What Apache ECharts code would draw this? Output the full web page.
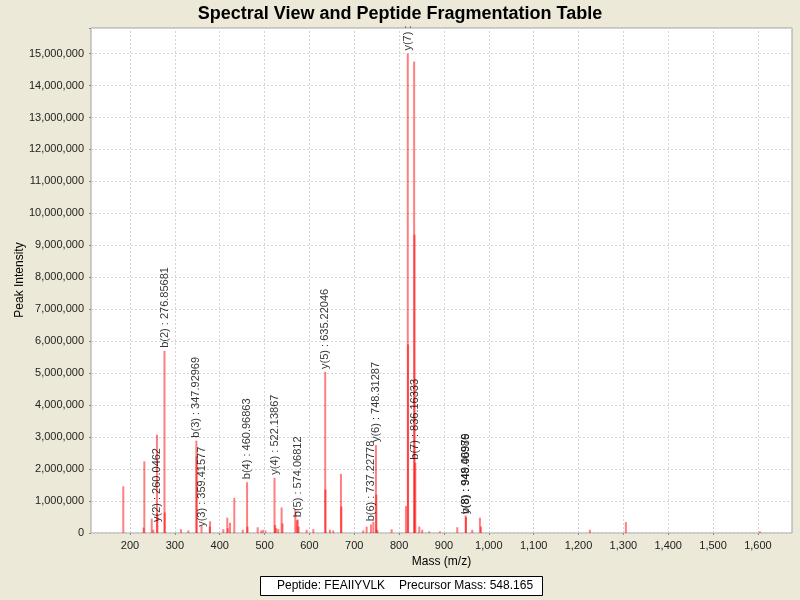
<!DOCTYPE html>
<html>
<head>
<meta charset="utf-8">
<script src="https://cdn.jsdelivr.net/npm/echarts@6/dist/echarts.min.js"></script>
<style>html,body{margin:0;padding:0;background:#ECE9D8;}#c{width:800px;height:600px;}</style>
</head>
<body>
<div id="c"></div>
<script>
// Peak list (m/z, intensity)
const peakMz = [185.0, 230.4, 231.9, 248.4, 252.0, 260.05, 261.0, 276.86, 277.5, 313.6, 330.0,
  347.93, 348.6, 359.42, 377.9, 378.5, 408.0, 416.9, 418.0, 422.9, 432.5, 451.5, 460.97, 462.0,
  484.6, 492.5, 497.0, 502.0, 522.14, 523.5, 526.0, 530.6, 538.0, 540.0, 568.5, 572.0, 574.07,
  576.0, 593.8, 608.6, 635.22, 635.8, 645.8, 653.0, 670.3, 671.2, 720.0, 727.6, 737.23, 742.4,
  748.31, 749.2, 751.5, 783.3, 815.2, 819.3, 820.0, 833.5, 834.3, 836.16, 845.0, 851.6, 867.0,
  891.0, 929.6, 948.4, 949.1, 963.0, 980.2, 982.4, 1225.4, 1305.6, 1604.3];
const peakIntensity = [1460000, 170000, 2240000, 450000, 100000, 3080000, 620000, 5700000, 640000, 120000, 80000,
  2890000, 2400000, 220000, 200000, 370000, 120000, 480000, 150000, 320000, 1100000, 100000, 1590000, 200000,
  180000, 80000, 100000, 80000, 1730000, 250000, 150000, 120000, 800000, 300000, 750000, 400000, 420000,
  200000, 100000, 120000, 5040000, 1360000, 100000, 80000, 1850000, 830000, 80000, 200000, 270000, 350000,
  2750000, 1200000, 100000, 120000, 840000, 15000000, 5900000, 14750000, 9330000, 2200000, 200000, 100000, 50000,
  50000, 180000, 550000, 500000, 100000, 480000, 200000, 100000, 340000, 50000];

// Fragment annotations
const annText = ["y(2) : 260.0462", "b(2) : 276.85681", "b(3) : 347.92969", "y(3) : 359.41577",
  "b(4) : 460.96863", "y(4) : 522.13867", "b(5) : 574.06812", "y(5) : 635.22046", "b(6) : 737.22778",
  "y(6) : 748.31287", "y(7) :", "b(7) : 836.16333", "y(8) : 948.40986", "b(8) : 949.06979"];
const annMz = [260.05, 276.86, 347.93, 359.42, 460.97, 522.14, 574.07, 635.22, 737.23, 748.31, 819.3, 836.16, 948.4, 949.1];
const annIntensity = [250000, 5700000, 2890000, 100000, 1590000, 1730000, 400000, 5040000, 270000, 2750000, 15000000, 2200000, 500000, 500000];

const xTicks = [200, 300, 400, 500, 600, 700, 800, 900, 1000, 1100, 1200, 1300, 1400, 1500, 1600];
const peptide = "FEAIIYVLK";
const precursor = "548.165";
const yTitle = "Peak Intensity";

const FONT = "'Liberation Sans', Arial, sans-serif";
const chart = echarts.init(document.getElementById('c'), null, {renderer: 'canvas'});
const fmt = v => Math.round(v).toString().replace(/\B(?=(\d{3})+(?!\d))/g, ',');
const gridLine = {color: '#D4D4D4', type: [2, 2], width: 1};

chart.setOption({
  backgroundColor: '#ECE9D8',
  animation: false,
  title: {
    text: 'Spectral View and Peptide Fragmentation Table',
    left: 'center', top: 0,
    textStyle: {fontFamily: FONT, fontSize: 18, fontWeight: 'bold', color: '#000'}
  },
  grid: {left: 91, right: 8, top: 28, bottom: 67, show: true, backgroundColor: '#fff', borderColor: '#A0A0A0', borderWidth: 1},
  xAxis: {
    type: 'value', min: 113, max: 1676,
    name: 'Mass (m/z)', nameLocation: 'middle', nameGap: 23, nameMoveOverlap: false,
    nameTextStyle: {fontFamily: FONT, fontSize: 12, color: '#000'},
    axisLine: {show: false},
    axisTick: {show: true, length: 2, customValues: xTicks, lineStyle: {color: '#888'}},
    axisLabel: {fontFamily: FONT, fontSize: 11, color: '#222', margin: 7, customValues: xTicks,
      formatter: v => fmt(v)},
    splitLine: {show: false}
  },
  yAxis: {
    type: 'value', min: 0, max: 15800000, interval: 1000000,
    axisLine: {show: false},
    axisTick: {show: true, length: 2, lineStyle: {color: '#888'}},
    axisLabel: {fontFamily: FONT, fontSize: 11, color: '#222', margin: 7,
      formatter: v => (v % 1000000 === 0 ? fmt(v) : '')},
    splitLine: {show: true, lineStyle: gridLine}
  },
  series: [
    {
      type: 'line', data: [], z: 1, silent: true,
      markLine: {
        silent: true, symbol: ['none', 'none'], label: {show: false},
        lineStyle: gridLine, emphasis: {disabled: true},
        data: xTicks.map(v => ({xAxis: v}))
      }
    },
    {
      type: 'bar',
      barWidth: 2,
      data: peakMz.map((m, i) => [m, peakIntensity[i]]),
      itemStyle: {color: 'rgba(255,0,0,0.5)'},
      emphasis: {disabled: true},
      z: 3
    },
    {
      type: 'scatter',
      symbolSize: 0,
      data: annMz.map((m, i) => ({value: [m, annIntensity[i]], name: annText[i]})),
      label: {
        show: true, position: 'top', distance: 3, rotate: 90,
        align: 'left', verticalAlign: 'middle',
        formatter: p => p.name,
        fontFamily: FONT, fontSize: 11, color: '#000'
      },
      emphasis: {disabled: true},
      silent: true, z: 4
    }
  ],
  graphic: [
    {type: 'text', x: 20, y: 280, rotation: Math.PI / 2,
     style: {text: yTitle, font: '12px ' + FONT, fill: '#000', textAlign: 'center', textVerticalAlign: 'middle'}},
    {type: 'rect', shape: {x: 260.5, y: 576.5, width: 282, height: 19},
     style: {fill: '#fff', stroke: '#000', lineWidth: 1}},
    {type: 'text', x: 277, y: 586,
     style: {text: 'Peptide: ' + peptide, font: '12px ' + FONT, fill: '#000', textVerticalAlign: 'middle'}},
    {type: 'text', x: 399, y: 586,
     style: {text: 'Precursor Mass: ' + precursor, font: '12px ' + FONT, fill: '#000', textVerticalAlign: 'middle'}}
  ]
});
</script>
</body>
</html>
